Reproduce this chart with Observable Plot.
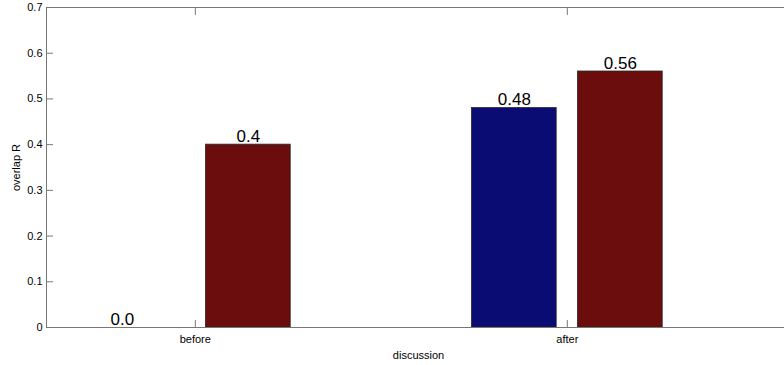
<!DOCTYPE html>
<html>
<head>
<meta charset="utf-8">
<script src="https://cdn.jsdelivr.net/npm/d3@7"></script>
<script src="https://cdn.jsdelivr.net/npm/@observablehq/plot@0.6"></script>
<style>
  html, body { margin: 0; padding: 0; background: #fff; overflow: hidden; }
  #chart svg { max-width: none !important; display: block; }
</style>
</head>
<body>
<div id="chart"></div>
<script>
// Grouped bars: overlap R before / after discussion
const categories = ["before", "after"];
const seriesNames = ["first", "second"];
const valuesFirst = [0.0, 0.48];
const valuesSecond = [0.4, 0.56];
const yTicks = [0, 0.1, 0.2, 0.3, 0.4, 0.5, 0.6, 0.7];
const yTickLabels = ["0", "0.1", "0.2", "0.3", "0.4", "0.5", "0.6", "0.7"];
const xTicks = [1, 2];

const seriesColors = ["#0b0b74", "#6b0d0d"];
const groupOffset = [-0.1425, 0.1425];
const barHalf = 0.114;
const axisColor = "#777";

const rows = [];
categories.forEach((c, i) => {
  [valuesFirst, valuesSecond].forEach((vals, s) => {
    rows.push({ category: c, pos: i + 1 + groupOffset[s], value: vals[i], series: seriesNames[s] });
  });
});
const fmtValue = d => (d.value === 0 ? "0.0" : String(d.value));

const plot = Plot.plot({
  width: 800,
  height: 365,
  marginLeft: 46,
  marginRight: 10,
  marginTop: 7,
  marginBottom: 38,
  style: { fontFamily: "'Liberation Sans', Arial, sans-serif", fontSize: "11px", color: "#000", background: "#fff", maxWidth: "none" },
  x: { type: "linear", domain: [0.6, 2.6] },
  y: { domain: [0, 0.7] },
  color: { domain: seriesNames, range: seriesColors },
  marks: [
    Plot.rectY(rows, { x1: d => d.pos - barHalf, x2: d => d.pos + barHalf, y1: 0, y2: "value", fill: "series", stroke: "#2a2a2a", strokeWidth: 0.8 }),
    Plot.frame({ stroke: axisColor }),
    // inward ticks on all four sides
    Plot.axisY(yTicks, { anchor: "left", tickSize: -7, fill: "none", stroke: axisColor }),
    Plot.axisY(yTicks, { anchor: "right", tickSize: -7, fill: "none", stroke: axisColor }),
    Plot.axisX(xTicks, { anchor: "bottom", tickSize: -7, fill: "none", stroke: axisColor }),
    Plot.axisX(xTicks, { anchor: "top", tickSize: -7, fill: "none", stroke: axisColor }),
    // tick labels
    Plot.axisY(yTicks, { anchor: "left", tickSize: 0, tickPadding: 4, tickFormat: d => yTickLabels[yTicks.indexOf(d)], label: null, fill: "#000" }),
    Plot.axisX(xTicks, { anchor: "bottom", tickSize: 0, tickPadding: 8, tickFormat: d => categories[d - 1], label: null, fill: "#000" }),
    // axis titles
    Plot.text(["overlap R"], { text: d => d, frameAnchor: "left", textAnchor: "middle", rotate: -90, dx: -30, fill: "#000" }),
    Plot.text(["discussion"], { text: d => d, frameAnchor: "bottom", dy: 31, fill: "#000" }),
    // value labels
    Plot.text(rows.filter(d => d.value !== 0), { x: "pos", y: "value", text: fmtValue, lineAnchor: "bottom", dy: -3, fontSize: 17, fill: "#000" }),
    Plot.text(rows.filter(d => d.value === 0), { x: "pos", y: "value", text: fmtValue, lineAnchor: "bottom", dy: -3, dx: -20, fontSize: 17, fill: "#000" })
  ]
});
document.getElementById("chart").appendChild(plot);
</script>
</body>
</html>
